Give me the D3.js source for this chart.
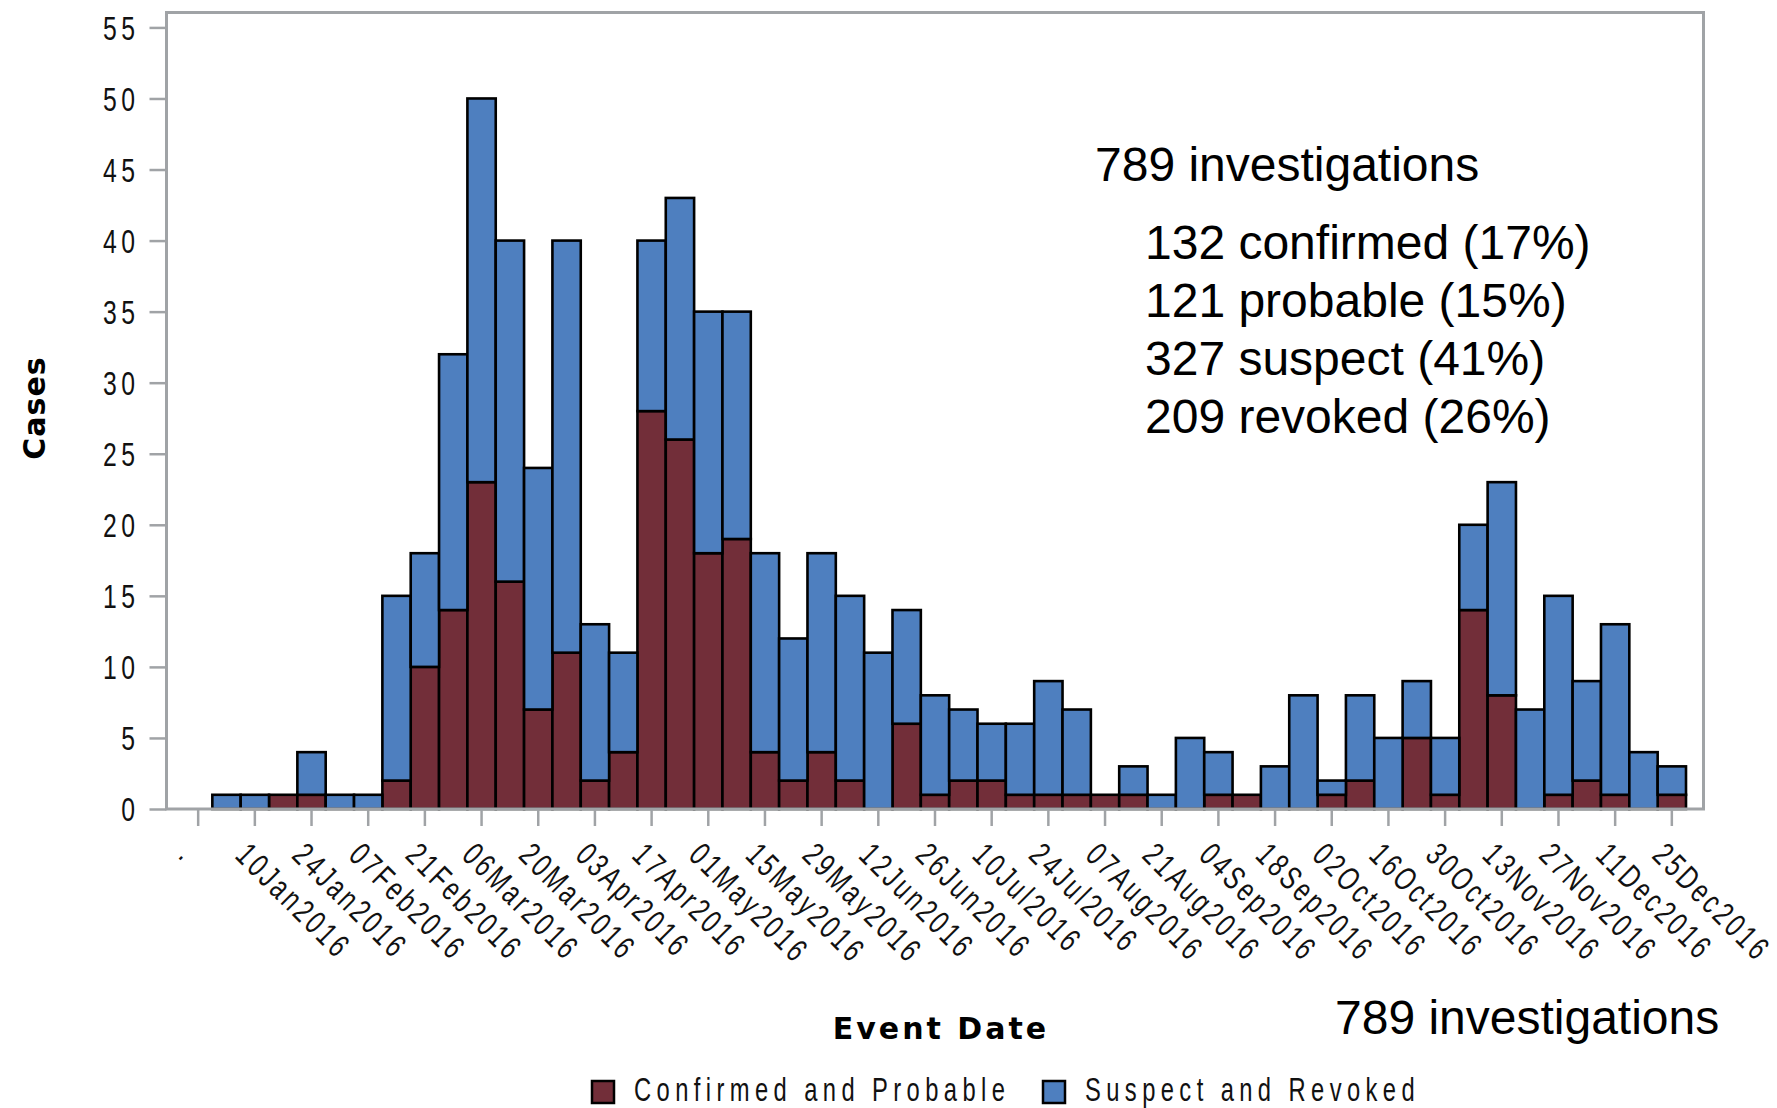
<!DOCTYPE html>
<html>
<head>
<meta charset="utf-8">
<script src="https://cdn.jsdelivr.net/npm/d3@7"></script>
<style>
    body { margin: 0; background: white; }
</style>
</head>
<body>
<div id="chart"></div>
<script>
// Weekly investigations by event date, 2016 (week start dates)
const blankWeek = '27Dec2015'
const weeks = [
    '03Jan2016', '10Jan2016', '17Jan2016', '24Jan2016', '31Jan2016',
    '07Feb2016', '14Feb2016', '21Feb2016', '28Feb2016',
    '06Mar2016', '13Mar2016', '20Mar2016', '27Mar2016',
    '03Apr2016', '10Apr2016', '17Apr2016', '24Apr2016',
    '01May2016', '08May2016', '15May2016', '22May2016', '29May2016',
    '05Jun2016', '12Jun2016', '19Jun2016', '26Jun2016',
    '03Jul2016', '10Jul2016', '17Jul2016', '24Jul2016', '31Jul2016',
    '07Aug2016', '14Aug2016', '21Aug2016', '28Aug2016',
    '04Sep2016', '11Sep2016', '18Sep2016', '25Sep2016',
    '02Oct2016', '09Oct2016', '16Oct2016', '23Oct2016', '30Oct2016',
    '06Nov2016', '13Nov2016', '20Nov2016', '27Nov2016',
    '04Dec2016', '11Dec2016', '18Dec2016', '25Dec2016'
]
const confirmedProbable = [
    0, 0, 1, 1, 0, 0, 2, 10, 14, 23, 16, 7, 11,
    2, 4, 28, 26, 18, 19, 4, 2, 4, 2, 0, 6, 1,
    2, 2, 1, 1, 1, 1, 1, 0, 0, 1, 1, 0, 0,
    1, 2, 0, 5, 1, 14, 8, 0, 1, 2, 1, 0, 1
]
const suspectRevoked = [
    1, 1, 0, 3, 1, 1, 13, 8, 18, 27, 24, 17, 29,
    11, 7, 12, 17, 17, 16, 14, 10, 14, 13, 11, 8, 7,
    5, 4, 5, 8, 6, 0, 2, 1, 5, 3, 0, 3, 8,
    1, 6, 5, 4, 4, 6, 15, 7, 14, 7, 12, 4, 2
]
const yTicks = [0, 5, 10, 15, 20, 25, 30, 35, 40, 45, 50, 55]
const seriesNames = ['Confirmed and Probable', 'Suspect and Revoked']
const summaryTitle = '789 investigations'
const summaryLines = ['132 confirmed (17%)', '121 probable (15%)', '327 suspect (41%)', '209 revoked (26%)']
const xLabel = 'Event Date'
const yLabel = 'Cases'

class EpiCurveChart {
    constructor(width, height, divElementName) {
        this.width = width
        this.height = height
        this.divElementName = divElementName
        this.colors = ['#722e39', '#4e7fbf']
        this.frameColor = '#a0a3a6'
        this.initialize()
    }

    initialize = () => {
        this.setAxesStartAndEnd()
        this.createSVGInstance()
        this.createXScale()
        this.createYScale()
        this.drawBars()
        this.drawFrame()
        this.drawXAxis()
        this.drawYAxis()
        this.drawAxisLabels()
        this.drawSummaryText()
        this.drawLegend()
    }

    setAxesStartAndEnd = () => {
        this.xAxisStart = 166.5
        this.xAxisEnd = 1703.5
        this.yAxisStart = 809
        this.yAxisEnd = 12.5
        this.barPad = 17.5
    }

    createSVGInstance = () => {
        this.svg = d3.select(this.divElementName).append('svg')
            .attr('width', this.width).attr('height', this.height)
            .style('font-family', 'Liberation Sans, Arial, sans-serif')
    }

    createXScale = () => {
        this.xDomain = [blankWeek].concat(weeks)
        this.xScale = d3.scaleBand().domain(this.xDomain)
            .range([this.xAxisStart + this.barPad, this.xAxisEnd - this.barPad]).padding(0)
    }

    createYScale = () => {
        this.yScale = d3.scaleLinear().domain([0, 56.05]).range([this.yAxisStart, this.yAxisEnd])
    }

    drawBars = () => {
        let rows = weeks.map((w, i) => ({week: w, cp: confirmedProbable[i], sr: suspectRevoked[i]}))
        let stacked = d3.stack().keys(['cp', 'sr'])(rows)
        stacked.forEach((layer, k) => {
            this.svg.append('g').selectAll('rect')
                .data(layer.filter(d => d[1] > d[0]))
                .join('rect')
                .attr('x', d => this.xScale(d.data.week))
                .attr('width', this.xScale.bandwidth())
                .attr('y', d => this.yScale(d[1]))
                .attr('height', d => this.yScale(d[0]) - this.yScale(d[1]))
                .style('fill', this.colors[k])
                .style('stroke', '#000')
                .style('stroke-width', 2.6)
        })
    }

    drawFrame = () => {
        this.svg.append('rect')
            .attr('x', this.xAxisStart).attr('y', this.yAxisEnd)
            .attr('width', this.xAxisEnd - this.xAxisStart)
            .attr('height', this.yAxisStart - this.yAxisEnd)
            .style('fill', 'none').style('stroke', this.frameColor).style('stroke-width', 3)
    }

    // narrow, widely spaced text like the original bitmap font
    styleNarrowText = (sel, spacing) => {
        sel.style('font-family', 'Liberation Sans, Arial, sans-serif')
            .style('font-size', '33px').style('letter-spacing', spacing + 'px').style('fill', '#111')
    }

    drawXAxis = () => {
        let tickValues = this.xDomain.filter((d, i) => i % 2 === 0)
        let xAxis = d3.axisBottom(this.xScale).tickValues(tickValues)
            .tickSize(17).tickSizeOuter(0)
            .tickFormat(d => d === blankWeek ? '.' : d)
        let g = this.svg.append('g')
            .attr('transform', 'translate(0, ' + this.yAxisStart + ')')
            .call(xAxis)
        g.select('.domain').remove()
        g.selectAll('.tick line').style('stroke', this.frameColor).style('stroke-width', 2.5)
        g.selectAll('.tick text')
            .attr('x', 0).attr('y', 0).attr('dy', 0)
            .attr('text-anchor', 'start')
            .attr('transform', 'translate(-21, 48) rotate(45) scale(0.72, 1)')
            .call(this.styleNarrowText, 4.5)
    }

    drawYAxis = () => {
        let yAxis = d3.axisLeft(this.yScale).tickValues(yTicks).tickSize(17).tickSizeOuter(0)
        let g = this.svg.append('g')
            .attr('transform', 'translate(' + this.xAxisStart + ', 0)')
            .call(yAxis)
        g.select('.domain').remove()
        g.selectAll('.tick line').style('stroke', this.frameColor).style('stroke-width', 2.5)
        g.selectAll('.tick text')
            .attr('x', 0).attr('dy', '0.36em')
            .attr('text-anchor', 'end')
            .attr('transform', 'translate(-27, 0) scale(0.75, 1)')
            .call(this.styleNarrowText, 6)
    }

    drawAxisLabels = () => {
        this.svg.append('text')
            .attr('x', 941).attr('y', 1039)
            .attr('text-anchor', 'middle')
            .style('font-family', 'DejaVu Sans, sans-serif')
            .style('font-weight', 'bold').style('font-size', '30px').style('letter-spacing', '3px')
            .text(xLabel)
        this.svg.append('text')
            .attr('transform', 'translate(45, 408) rotate(-90)')
            .attr('text-anchor', 'middle')
            .style('font-family', 'DejaVu Sans, sans-serif')
            .style('font-weight', 'bold').style('font-size', '30px').style('letter-spacing', '1px')
            .text(yLabel)
    }

    createLabel = (x, y, label, fontsize) => {
        this.svg.append('text').attr('x', x).attr('y', y).text(label)
            .style('font-size', fontsize + 'px').style('fill', '#000')
    }

    drawSummaryText = () => {
        this.createLabel(1095, 181, summaryTitle, 48)
        summaryLines.forEach((line, i) => this.createLabel(1145, 259 + i * 58, line, 48))
        this.createLabel(1335, 1034, summaryTitle, 48)
    }

    drawLegend = () => {
        let items = [{x: 592, name: seriesNames[0]}, {x: 1043, name: seriesNames[1]}]
        items.forEach((item, i) => {
            this.svg.append('rect')
                .attr('x', item.x).attr('y', 1081).attr('width', 22).attr('height', 22)
                .style('fill', this.colors[i]).style('stroke', '#000').style('stroke-width', 2.5)
            this.svg.append('text')
                .attr('transform', 'translate(' + (item.x + 42) + ', 1101) scale(0.72, 1)')
                .call(this.styleNarrowText, 7.5)
                .text(item.name)
        })
    }
}

new EpiCurveChart(1777, 1108, '#chart')
</script>
</body>
</html>
